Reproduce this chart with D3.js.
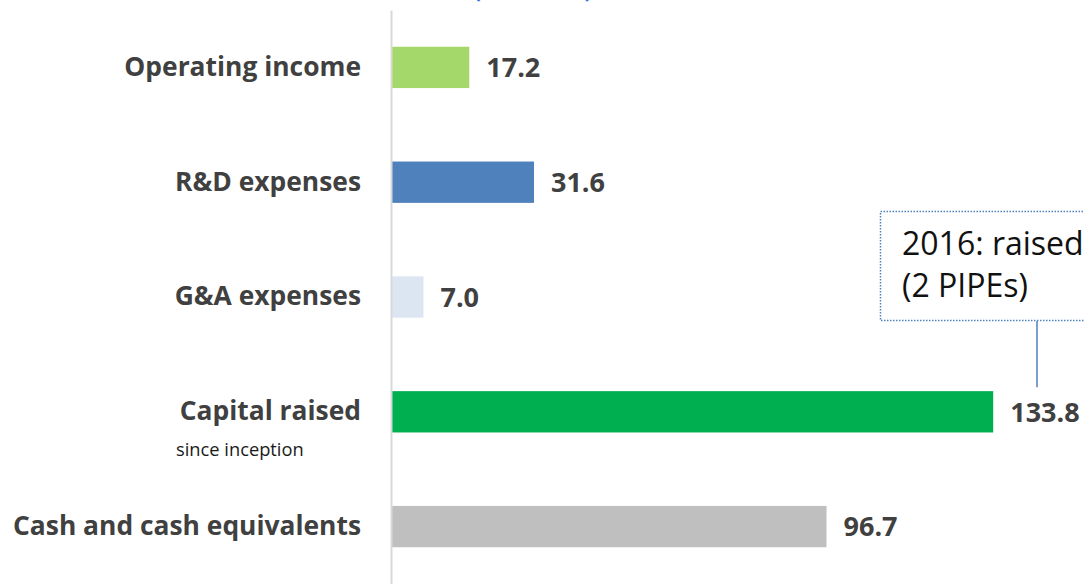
<!DOCTYPE html>
<html>
<head>
<meta charset="utf-8">
<script src="https://cdn.jsdelivr.net/npm/d3@7"></script>
<style>
  html, body { margin: 0; padding: 0; background: #ffffff; }
  svg { display: block; }
</style>
</head>
<body>
<svg id="chart" width="1084" height="584"></svg>
<script>
// Financial highlights, $ millions
const categories = ["Operating income", "R&D expenses", "G&A expenses", "Capital raised", "Cash and cash equivalents"];
const values = [17.2, 31.6, 7.0, 133.8, 96.7];
const barColors = ["#a5d86a", "#4f81bd", "#dce6f2", "#00b050", "#bfbfbf"];
const valueLabels = ["17.2", "31.6", "7.0", "133.8", "96.7"];
const subLabels = { "Capital raised": "since inception" };
const titleText = "(in millions)";
const noteLines = ["2016: raised", "(2 PIPEs)"];
const noteCategory = "Capital raised";

const svg = d3.select("#chart");
const font = "'Open Sans', 'Noto Sans', sans-serif";

const x = d3.scaleLinear().domain([0, 150]).range([392, 1066]);
const y = d3.scaleBand()
  .domain(categories)
  .range([10, 584])
  .paddingInner(0.64)
  .paddingOuter(0.32);

// Title (sits mostly above the visible area)
svg.append("text")
  .attr("x", 474)
  .attr("y", -2.5)
  .attr("font-family", font)
  .attr("font-size", 20)
  .attr("font-weight", 700)
  .attr("fill", "#2e75d6")
  .text(titleText);

// Bars
svg.append("g")
  .selectAll("rect")
  .data(categories)
  .join("rect")
  .attr("x", x(0))
  .attr("y", d => y(d))
  .attr("width", (d, i) => x(values[i]) - x(0))
  .attr("height", y.bandwidth())
  .attr("fill", (d, i) => barColors[i]);

// Category axis
const axis = svg.append("g")
  .attr("transform", `translate(${x(0) - 1},0)`)
  .call(d3.axisLeft(y).tickSize(0).tickPadding(30));
axis.select(".domain")
  .attr("stroke", "#d9d9d9")
  .attr("stroke-width", 2);
axis.selectAll(".tick text")
  .attr("font-family", font)
  .attr("font-size", 26.4)
  .attr("font-weight", 700)
  .attr("fill", "#404040");

// Sub-labels under categories
svg.append("g")
  .selectAll("text")
  .data(categories.filter(c => subLabels[c]))
  .join("text")
  .attr("x", 176)
  .attr("y", d => y(d) + y.bandwidth() + 24)
  .attr("font-family", font)
  .attr("font-size", 18.3)
  .attr("fill", "#1a1a1a")
  .text(d => subLabels[d]);

// Value labels
svg.append("g")
  .selectAll("text")
  .data(categories)
  .join("text")
  .attr("x", (d, i) => x(values[i]) + 17)
  .attr("y", d => y(d) + y.bandwidth() / 2)
  .attr("dy", "0.36em")
  .attr("font-family", font)
  .attr("font-size", 27)
  .attr("font-weight", 700)
  .attr("fill", "#404040")
  .text((d, i) => valueLabels[i]);

// Callout note with connector
const noteX = 1037;
const noteTop = 211, noteBottom = 320;
svg.append("rect")
  .attr("x", 880.5)
  .attr("y", noteTop + 0.5)
  .attr("width", 260)
  .attr("height", noteBottom - noteTop)
  .attr("fill", "#ffffff")
  .attr("stroke", "#4f81bd")
  .attr("stroke-width", 1.5)
  .attr("stroke-dasharray", "1.5,1.5");
svg.append("line")
  .attr("x1", noteX).attr("x2", noteX)
  .attr("y1", noteBottom + 1)
  .attr("y2", y(noteCategory) - 4)
  .attr("stroke", "#4f81bd")
  .attr("stroke-width", 1.5);
svg.append("g")
  .selectAll("text")
  .data(noteLines)
  .join("text")
  .attr("x", 902)
  .attr("y", (d, i) => 255 + i * 42)
  .attr("font-family", font)
  .attr("font-size", 32)
  .attr("fill", "#111111")
  .text(d => d);
</script>
</body>
</html>
